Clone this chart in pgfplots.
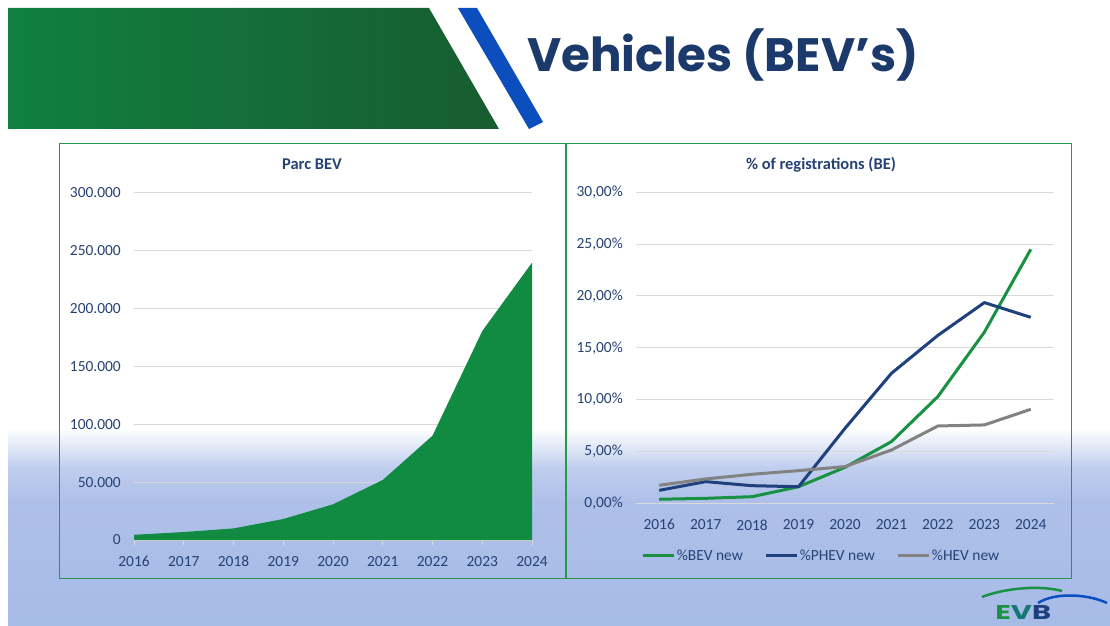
\documentclass[border=0pt]{standalone}
\usepackage{pgfplots}
\pgfplotsset{compat=1.18}
\usepackage{fontspec}
\setmainfont{Carlito}
\newfontfamily\poppins{Poppins}
\definecolor{bgM}{RGB}{192,206,238}
\definecolor{bgN}{RGB}{174,192,233}
\definecolor{bgB}{RGB}{167,187,231}
\definecolor{hdrL}{RGB}{17,128,64}
\definecolor{hdrR}{RGB}{23,92,47}
\definecolor{stripe}{RGB}{12,78,190}
\definecolor{titleblue}{RGB}{27,58,107}
\definecolor{ticktext}{RGB}{38,66,116}
\definecolor{boxgreen}{RGB}{40,150,75}
\definecolor{areagreen}{RGB}{17,139,66}
\definecolor{bevgreen}{RGB}{24,146,66}
\definecolor{phevblue}{RGB}{30,64,124}
\definecolor{hevgray}{RGB}{130,130,130}
\definecolor{gridgray}{RGB}{217,217,217}
\begin{document}
\begin{tikzpicture}
\begin{scope}[x=1bp,y=-1bp]
\useasboundingbox (0,0) rectangle (1110,626);
\fill[white] (0,0) rectangle (1110,626);
\shade[top color=white,bottom color=bgM] (8,428) rectangle (1110,467.5);
\shade[top color=bgM,bottom color=bgN] (8,467) rectangle (1110,500.5);
\shade[top color=bgN,bottom color=bgB] (8,500) rectangle (1110,626);
% header
\shade[left color=hdrL,right color=hdrR] (8,8) -- (429,8) -- (499,129) -- (8,129) -- cycle;
\fill[stripe] (458,8) -- (477,8) -- (543,122) -- (529,129) -- cycle;
\node[anchor=base west,inner sep=0pt,text=titleblue,font=\poppins\bfseries\fontsize{47}{56}\selectfont] at (527,72) {Vehicles (BEV’s)};
% boxes
\draw[boxgreen,line width=1bp] (59.5,143.5) rectangle (565.5,578.5);
\draw[boxgreen,line width=1bp] (566.5,143.5) rectangle (1071.5,578.5);
% chart titles
\node[anchor=base,inner sep=0pt,text=ticktext,font=\bfseries\fontsize{16.5}{19}\selectfont] at (312,170) {Parc BEV};
\node[anchor=base,inner sep=0pt,text=ticktext,font=\bfseries\fontsize{16.5}{19}\selectfont] at (821,170) {\% of registrations (BE)};
% logo (approximation)
\draw[bevgreen,line width=2.5bp] (982,597) .. controls (1005,588) and (1040,585) .. (1062,591);
\draw[stripe,line width=2.5bp] (1038,603) .. controls (1055,592) and (1088,594) .. (1107,603);
\node[anchor=base west,inner sep=0pt,xscale=1.45,font=\poppins\bfseries\fontsize{20}{22}\selectfont] at (995,619) {\textcolor{bevgreen}{E}\textcolor{bevgreen!60!stripe}{V}\textcolor{phevblue}{B}};
\end{scope}
% left chart
\begin{axis}[
  at={(134bp,-540bp)}, anchor=south west,
  scale only axis, width=398bp, height=347.7bp,
  xmin=2016, xmax=2024, ymin=0, ymax=300000,
  scaled y ticks=false,
  axis x line*=bottom, axis y line*=left,
  y axis line style={draw=none},
  x axis line style={draw=gridgray,line width=1bp},
  xtick={2016,2017,2018,2019,2020,2021,2022,2023,2024},
  xticklabels={2016,2017,2018,2019,2020,2021,2022,2023,2024},
  ytick={0,50000,100000,150000,200000,250000,300000},
  yticklabels={0,50.000,100.000,150.000,200.000,250.000,300.000},
  ymajorgrids, grid style={draw=gridgray,line width=1bp},
  ytick style={draw=none},
  xtick align=outside, major tick length=5bp,
  xtick style={draw=gridgray,line width=1bp},
  tick label style={text=ticktext,font=\fontsize{15.5}{18}\selectfont,inner sep=0pt},
  yticklabel style={anchor=east,xshift=-13bp},
  xticklabel style={anchor=north,yshift=-11bp},
]
\addplot[fill=areagreen,draw=none] coordinates {
 (2016,4500) (2017,6900) (2018,10000) (2019,18100) (2020,30800)
 (2021,51800) (2022,90000) (2023,180300) (2024,239300)} \closedcycle;
\end{axis}
% right chart
\begin{axis}[
  at={(636bp,-503.3bp)}, anchor=south west,
  scale only axis, width=418bp, height=311bp,
  xmin=2015.5, xmax=2024.5, ymin=0, ymax=30,
  axis line style={draw=none},
  xtick={2016,2017,2018,2019,2020,2021,2022,2023,2024},
  xticklabels={2016,2017,2018,2019,2020,2021,2022,2023,2024},
  ytick={0,5,10,15,20,25,30},
  yticklabels={{0,00\%},{5,00\%},{10,00\%},{15,00\%},{20,00\%},{25,00\%},{30,00\%}},
  ymajorgrids, grid style={draw=gridgray,line width=1bp},
  tick style={draw=none},
  tick label style={text=ticktext,font=\fontsize{15.5}{18}\selectfont,inner sep=0pt},
  yticklabel style={anchor=east,xshift=-13bp},
  xticklabel style={anchor=north,yshift=-16bp},
  legend style={at={(0.4426,-0.169)},anchor=center,draw=none,fill=none,
    legend columns=3,font=\fontsize{15.5}{18}\selectfont,text=ticktext,
    nodes={inner sep=1.5bp},
    /tikz/every even column/.append style={column sep=20bp},
    /tikz/every odd column/.append style={column sep=0bp}},
  legend image code/.code={\draw[#1,line width=3bp] (0bp,0bp) -- (31bp,0bp);},
]
\addplot[bevgreen,line width=3bp,line join=round] coordinates {
 (2016,0.39) (2017,0.48) (2018,0.64) (2019,1.6) (2020,3.47)
 (2021,5.95) (2022,10.3) (2023,16.5) (2024,24.5)};
\addlegendentry{\%BEV new}
\addplot[phevblue,line width=3bp,line join=round] coordinates {
 (2016,1.25) (2017,2.09) (2018,1.7) (2019,1.6) (2020,7.23)
 (2021,12.54) (2022,16.2) (2023,19.36) (2024,17.94)};
\addlegendentry{\%PHEV new}
\addplot[hevgray,line width=3bp,line join=round] coordinates {
 (2016,1.74) (2017,2.35) (2018,2.8) (2019,3.15) (2020,3.54)
 (2021,5.14) (2022,7.46) (2023,7.56) (2024,9.07)};
\addlegendentry{\%HEV new}
\end{axis}
\end{tikzpicture}
\end{document}
